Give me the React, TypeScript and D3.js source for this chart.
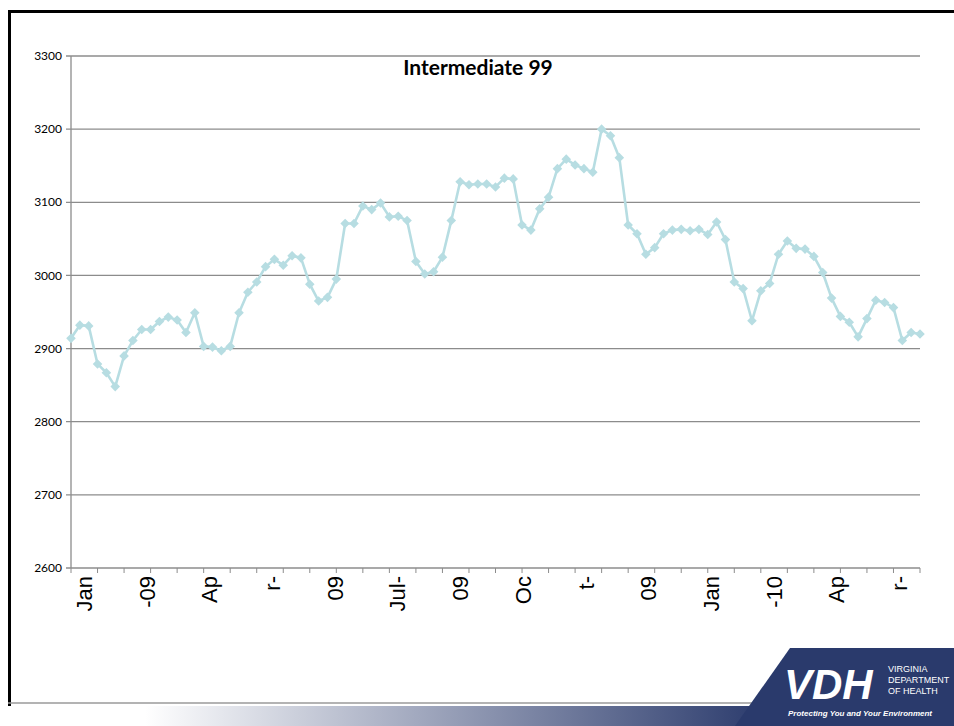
import React from 'react';
import * as d3 from 'd3';

// weekly readings, Jan-09 onward
const values = [
  2914, 2932, 2931, 2879, 2867, 2848, 2890, 2911, 2926, 2926,
  2937, 2943, 2939, 2922, 2949, 2903, 2902, 2897, 2903, 2949,
  2977, 2991, 3012, 3022, 3014, 3027, 3024, 2988, 2965, 2970,
  2995, 3071, 3071, 3095, 3090, 3099, 3080, 3081, 3075, 3019,
  3002, 3005, 3025, 3075, 3128, 3124, 3125, 3125, 3121, 3133,
  3132, 3069, 3062, 3091, 3107, 3146, 3159, 3151, 3146, 3141,
  3200, 3191, 3161, 3069, 3057, 3029, 3038, 3057, 3062, 3063,
  3061, 3063, 3056, 3073, 3049, 2991, 2982, 2938, 2979, 2989,
  3029, 3047, 3037, 3036, 3026, 3004, 2969, 2944, 2936, 2916,
  2941, 2966, 2963, 2956, 2911, 2922, 2920,
];
const weeks = values.map((_, i) => i);
const yTicks = [2600, 2700, 2800, 2900, 3000, 3100, 3200, 3300];
// Excel wrapped the rotated date labels into pieces
const xLabels = ['Jan', '-09', 'Ap', 'r-', '09', 'Jul-', '09', 'Oc', 't-', '09', 'Jan', '-10', 'Ap', 'r-'];
const title = 'Intermediate 99';

const W = 954, H = 726;
const margin = { top: 56, right: 34, bottom: 158, left: 71 };
const lineColor = '#b7dde2';
const gridColor = '#8c8c8c';
const navy = '#2a3a6c';

export default function App() {
  const x = d3.scaleLinear()
    .domain([0, weeks.length - 1])
    .range([margin.left, W - margin.right]);
  const y = d3.scaleLinear()
    .domain([2600, 3300])
    .range([H - margin.bottom, margin.top]);

  const xTickIdx = d3.range(0, weeks.length, 3);
  const labelPos = d3.scalePoint()
    .domain(d3.range(xLabels.length))
    .range([margin.left + 14, W - margin.right - 20]);

  const line = d3.line().x((d, i) => x(i)).y(d => y(d));
  const diamond = d3.symbol(d3.symbolSquare, 46)();

  return (
    <svg width={W} height={H} style={{ position: 'absolute', left: 0, top: 0, background: '#fff' }}
      fontFamily="Lato, 'Liberation Sans', sans-serif">
      <defs>
        <linearGradient id="fade" x1="0" x2="1" y1="0" y2="0">
          <stop offset="0" stopColor="#ffffff" />
          <stop offset="0.18" stopColor="#ffffff" />
          <stop offset="1" stopColor={navy} />
        </linearGradient>
      </defs>

      {/* slide frame */}
      <path d={`M9.5,${H}V11.5H${W}`} fill="none" stroke="#000" strokeWidth={3} />

      {/* gridlines + y labels */}
      {yTicks.map(t => (
        <g key={t}>
          <line x1={margin.left - 5} x2={W - margin.right} y1={y(t)} y2={y(t)}
            stroke={gridColor} strokeWidth={1.3} />
          <text x={margin.left - 9} y={y(t)} dy="0.35em" textAnchor="end" fontSize={12} fill="#000">{t}</text>
        </g>
      ))}
      <line x1={margin.left} x2={margin.left} y1={margin.top} y2={H - margin.bottom} stroke={gridColor} strokeWidth={1.3} />

      {/* x ticks */}
      {xTickIdx.map(i => (
        <line key={i} x1={x(i)} x2={x(i)} y1={H - margin.bottom} y2={H - margin.bottom + 5}
          stroke={gridColor} strokeWidth={1} />
      ))}
      {xLabels.map((l, i) => (
        <text key={i} transform={`translate(${labelPos(i) + 7},${H - margin.bottom + 8}) rotate(-90)`}
          textAnchor="end" fontSize={22} fontFamily="'Liberation Sans', Arial, sans-serif" fill="#000">{l}</text>
      ))}

      <text x={478} y={75} textAnchor="middle" fontSize={21} fontWeight="bold" fill="#000">{title}</text>

      {/* series */}
      <path d={line(values)} fill="none" stroke={lineColor} strokeWidth={2.6} strokeLinejoin="round" />
      {values.map((v, i) => (
        <path key={i} d={diamond} transform={`translate(${x(i)},${y(v)}) rotate(45)`} fill={lineColor} />
      ))}

      {/* footer band + logo */}
      <line x1={8} x2={760} y1={703} y2={703} stroke="#9a9a9a" strokeWidth={1.5} />
      <rect x={8} y={706} width={760} height={20} fill="url(#fade)" />
      <path d={`M790,648H${W}V${H}H735Z`} fill={navy} />
      <text x={784} y={699} fontSize={42} fontWeight="bold" fontStyle="italic" fill="#fff"
        fontFamily="'Liberation Sans Narrow', 'Liberation Sans', sans-serif">VDH</text>
      <g fontFamily="'Liberation Sans Narrow', 'Liberation Sans', sans-serif" fontSize={9} fill="#fff">
        <text x={888} y={672}>VIRGINIA</text>
        <text x={888} y={683}>DEPARTMENT</text>
        <text x={888} y={694}>OF HEALTH</text>
      </g>
      <text x={788} y={716} fontSize={8} fontStyle="italic" fontWeight="bold" fill="#fff"
        fontFamily="'Liberation Sans Narrow', 'Liberation Sans', sans-serif">Protecting You and Your Environment</text>
    </svg>
  );
}
